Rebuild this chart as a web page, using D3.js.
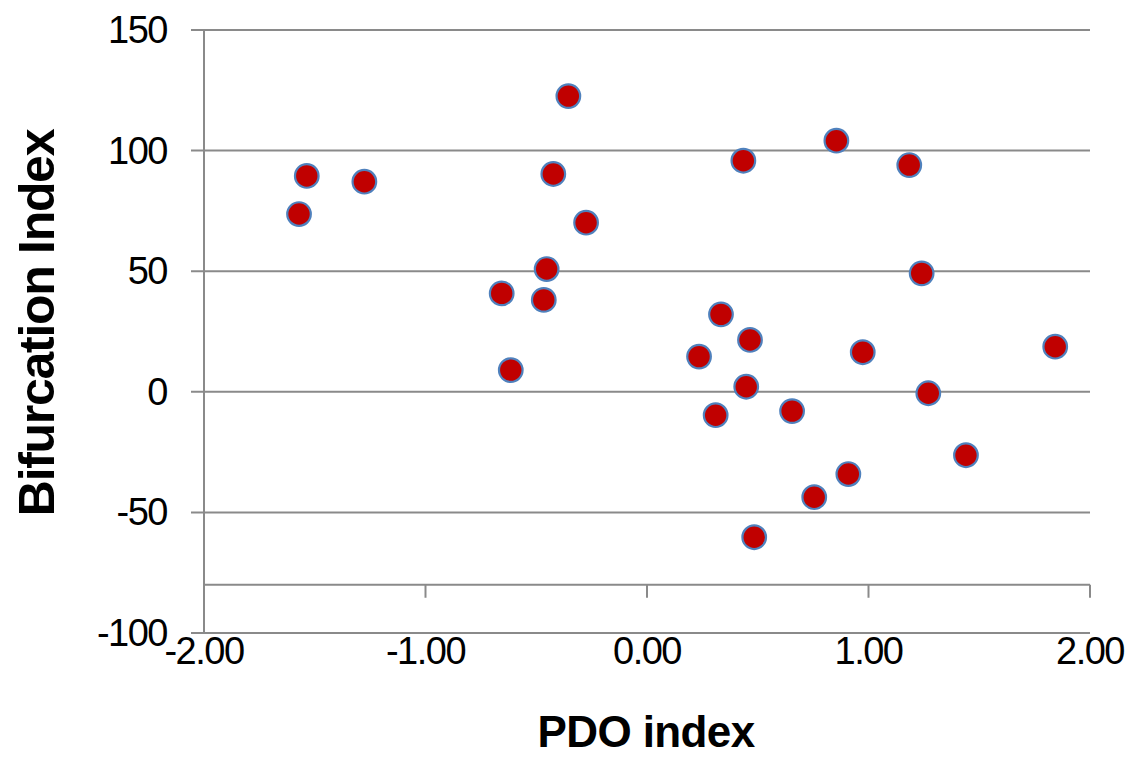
<!DOCTYPE html>
<html>
<head>
<meta charset="utf-8">
<script src="https://cdn.jsdelivr.net/npm/d3@7"></script>
<style>
html,body{margin:0;padding:0;background:#fff;}
svg{display:block;}
</style>
</head>
<body>
<svg id="chart" width="1134" height="758"></svg>
<script>
const pdoIndex = [-1.571,-1.536,-1.276,-0.355,-0.423,-0.275,-0.453,-0.656,-0.466,-0.615,
  0.435,0.855,1.184,1.240,0.334,0.465,0.235,0.974,1.843,0.448,1.270,0.310,0.655,1.440,0.909,0.755,0.484];
const bifurcationIndex = [73.7,89.5,87.1,122.6,90.3,70.1,50.9,40.8,38.1,9.0,
  95.8,104.1,94.0,49.1,32.1,21.5,14.6,16.4,18.7,2.1,-0.6,-9.7,-8.0,-26.3,-34.1,-43.7,-60.3];
const xTicks = [-2,-1,0,1,2];
const yTicks = [-100,-50,0,50,100,150];
const xAxisCross = -80;
const xTitle = "PDO index";
const yTitle = "Bifurcation Index";

(function(){
const svg = d3.select("#chart");
const pLeft = 204, pRight = 1090, pTop = 30, pBottom = 633;
const x = d3.scaleLinear().domain([-2,2]).range([pLeft,pRight]);
const y = d3.scaleLinear().domain([-100,150]).range([pBottom,pTop]);
const gridColor = "#8a8a8a";
const font = "'Liberation Sans', Arial, sans-serif";
const fmtX = d => d3.format(".2f")(d).replace("\u2212","-");

// horizontal gridlines with left tick marks
svg.append("g").selectAll("line").data(yTicks).join("line")
  .attr("x1", pLeft-13).attr("x2", pRight)
  .attr("y1", d=>y(d)).attr("y2", d=>y(d))
  .attr("stroke", gridColor).attr("stroke-width", 2);

// y axis line
svg.append("line").attr("x1",pLeft).attr("x2",pLeft).attr("y1",pTop).attr("y2",pBottom)
  .attr("stroke",gridColor).attr("stroke-width",2);

// y tick labels
svg.append("g").selectAll("text").data(yTicks).join("text")
  .attr("x", 167).attr("y", d=>y(d)+13)
  .attr("text-anchor","end")
  .attr("font-family",font).attr("font-size",38).attr("letter-spacing","-1.5px")
  .attr("fill","#000").text(d=>String(d));

// x axis line (crossing at -80)
const xa = y(xAxisCross);
svg.append("line").attr("x1",pLeft).attr("x2",pRight).attr("y1",xa).attr("y2",xa)
  .attr("stroke",gridColor).attr("stroke-width",2);
svg.append("g").selectAll("line").data(xTicks.filter(d=>d>-2)).join("line")
  .attr("x1",d=>x(d)).attr("x2",d=>x(d)).attr("y1",xa).attr("y2",xa+13)
  .attr("stroke",gridColor).attr("stroke-width",2);

// x tick labels
svg.append("g").selectAll("text").data(xTicks).join("text")
  .attr("x", d=>x(d)).attr("y", 664)
  .attr("text-anchor","middle")
  .attr("font-family",font).attr("font-size",38).attr("letter-spacing","-1.5px")
  .attr("fill","#000").text(fmtX);

// points
const pts = pdoIndex.map((v,i)=>({x:v,y:bifurcationIndex[i]}));
svg.append("g").selectAll("circle").data(pts).join("circle")
  .attr("cx",d=>x(d.x)).attr("cy",d=>y(d.y)).attr("r",11.8)
  .attr("fill","#c00000").attr("stroke","#4f81bd").attr("stroke-width",2.2);

// axis titles
svg.append("text").attr("x",646).attr("y",747).attr("text-anchor","middle")
  .attr("font-family",font).attr("font-weight","bold").attr("font-size",44).attr("letter-spacing","-0.6px")
  .attr("fill","#000").text(xTitle);
svg.append("text").attr("transform","translate(54,323) rotate(-90)").attr("text-anchor","middle")
  .attr("font-family",font).attr("font-weight","bold").attr("font-size",50).attr("letter-spacing","-1.3px")
  .attr("fill","#000").text(yTitle);
})();
</script>
</body>
</html>
